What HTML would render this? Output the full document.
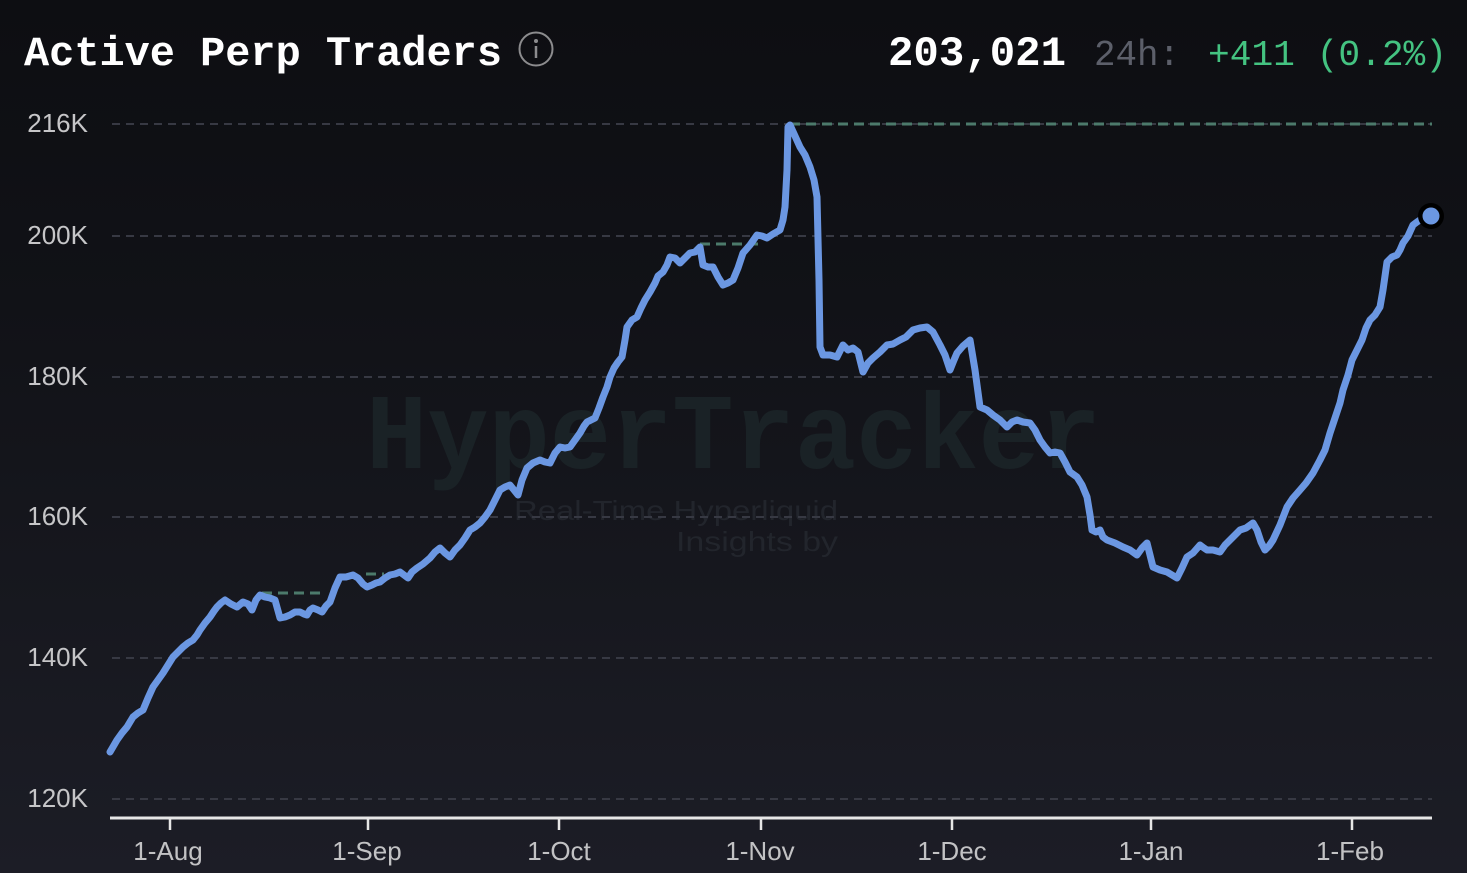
<!DOCTYPE html>
<html>
<head>
<meta charset="utf-8">
<style>
  html,body{margin:0;padding:0;}
  body{width:1467px;height:873px;overflow:hidden;background:linear-gradient(180deg,#0d0e12 0%,#111217 35%,#17181f 70%,#1c1d26 100%);}
  svg{display:block;}
</style>
</head>
<body>
<svg width="1467" height="873" viewBox="0 0 1467 873" xmlns="http://www.w3.org/2000/svg">
  <!-- Watermark -->
  <text x="366" y="468" font-family="Liberation Mono, monospace" font-weight="bold" font-size="108" fill="#1a2226" textLength="735" lengthAdjust="spacingAndGlyphs">HyperTracker</text>
  <text x="838" y="520" text-anchor="end" font-family="Liberation Sans, sans-serif" font-size="28" fill="#22252c" textLength="324" lengthAdjust="spacingAndGlyphs">Real-Time Hyperliquid</text>
  <text x="838" y="551" text-anchor="end" font-family="Liberation Sans, sans-serif" font-size="28" fill="#22252c" textLength="162" lengthAdjust="spacingAndGlyphs">Insights by</text>

  <!-- Gridlines -->
  <g stroke="#373943" stroke-width="2" stroke-dasharray="8 6">
    <line x1="112" y1="124" x2="1432" y2="124"/>
    <line x1="112" y1="236" x2="1432" y2="236"/>
    <line x1="112" y1="377" x2="1432" y2="377"/>
    <line x1="112" y1="517" x2="1432" y2="517"/>
    <line x1="112" y1="658" x2="1432" y2="658"/>
    <line x1="112" y1="799" x2="1432" y2="799"/>
  </g>
  <!-- green reference dashes -->
  <g stroke="#4c7a6b" stroke-width="3" stroke-dasharray="10 6">
    <line x1="790" y1="124" x2="1432" y2="124"/>
    <line x1="700" y1="244" x2="758" y2="244"/>
    <line x1="262" y1="593" x2="326" y2="593"/>
    <line x1="366" y1="574" x2="384" y2="574"/>
  </g>

  <!-- Y labels -->
  <g font-family="Liberation Sans, sans-serif" font-size="26" fill="#c6c6c8" text-anchor="end">
    <text x="88" y="132">216K</text>
    <text x="88" y="244">200K</text>
    <text x="88" y="385">180K</text>
    <text x="88" y="525">160K</text>
    <text x="88" y="666">140K</text>
    <text x="88" y="807">120K</text>
  </g>

  <!-- X axis -->
  <line x1="110" y1="818" x2="1432" y2="818" stroke="#e6e6e6" stroke-width="3"/>
  <g stroke="#e6e6e6" stroke-width="2.5">
    <line x1="170" y1="818" x2="170" y2="830"/>
    <line x1="368" y1="818" x2="368" y2="830"/>
    <line x1="559" y1="818" x2="559" y2="830"/>
    <line x1="761" y1="818" x2="761" y2="830"/>
    <line x1="952" y1="818" x2="952" y2="830"/>
    <line x1="1151" y1="818" x2="1151" y2="830"/>
    <line x1="1352" y1="818" x2="1352" y2="830"/>
  </g>
  <g font-family="Liberation Sans, sans-serif" font-size="26" fill="#c2c2c4" text-anchor="middle">
    <text x="168" y="860">1-Aug</text>
    <text x="367" y="860">1-Sep</text>
    <text x="559" y="860">1-Oct</text>
    <text x="760" y="860">1-Nov</text>
    <text x="952" y="860">1-Dec</text>
    <text x="1151" y="860">1-Jan</text>
    <text x="1350" y="860">1-Feb</text>
  </g>

  <!-- Data line -->
  <polyline fill="none" stroke="#6b97e2" stroke-width="7" stroke-linejoin="round" stroke-linecap="round" points="
110,752 117,740 122,733 127,727 133,717 138,713 143,710 148,698 153,687 158,680 163,673 168,665 173,657 178,652 183,647 188,643 193,640 197,635 200,630 205,623 210,617 214,611 217,607 221,603 225,600 231,604 237,607 243,602 248,604 252,610 256,600 260,595 265,597 270,598 275,600 280,618 285,617 290,615 295,612 300,612 304,614 307,615 310,610 313,608 318,610 322,612 326,606 330,602 335,588 340,577 346,577 353,575 358,578 363,584 367,587 372,585 376,583 380,582 385,578 390,575 395,574 400,572 404,575 408,578 412,572 417,568 423,564 430,558 435,552 440,548 445,553 450,557 455,550 460,545 465,538 470,530 475,527 480,523 485,517 490,510 495,500 500,490 505,487 510,485 514,490 518,495 522,480 527,468 533,463 540,460 545,462 550,463 555,453 560,447 565,448 570,447 575,440 580,433 584,426 587,422 591,420 595,418 599,408 603,397 607,387 610,377 614,368 618,362 622,357 625,340 627,327 632,320 637,317 641,308 645,300 650,292 655,283 658,276 663,272 667,265 670,257 675,258 680,263 685,258 690,253 695,252 700,247 703,265 708,267 713,267 718,277 723,285 728,283 733,280 738,268 743,253 750,245 757,235 762,236 767,238 773,234 780,230 783,220 785,207 787,170 788,127 790,125 795,136 800,147 805,155 810,167 814,180 817,197 819,280 820,347 823,355 830,355 837,357 843,345 848,350 853,348 858,352 863,372 868,363 873,358 880,352 887,345 893,344 900,340 906,337 913,330 920,328 927,327 933,332 940,345 945,355 950,370 954,360 957,353 963,346 970,340 975,370 980,407 987,410 993,415 1000,420 1007,427 1012,422 1017,420 1023,422 1030,423 1035,430 1040,440 1045,447 1050,453 1055,452 1060,453 1065,462 1070,472 1077,477 1082,485 1087,497 1090,515 1092,530 1096,532 1100,530 1103,537 1107,540 1115,543 1123,547 1130,550 1137,555 1142,548 1147,543 1150,555 1153,567 1160,570 1167,572 1172,575 1177,578 1182,568 1187,557 1193,553 1200,545 1204,548 1207,550 1213,550 1220,552 1225,545 1230,540 1235,535 1240,530 1246,528 1253,523 1257,530 1261,542 1265,550 1269,546 1273,540 1280,525 1287,507 1293,498 1300,490 1306,483 1313,473 1320,460 1325,450 1330,433 1335,418 1340,403 1343,390 1348,375 1352,360 1357,350 1362,340 1366,328 1370,320 1375,315 1380,307 1383,290 1387,262 1392,257 1397,255 1400,250 1403,243 1408,236 1413,225 1417,222 1420,220 1431,216"/>

  <!-- End dot -->
  <circle cx="1431" cy="216" r="13" fill="#000"/>
  <circle cx="1431" cy="216" r="8.5" fill="#6b97e2"/>

  <!-- Title -->
  <text x="24" y="65" font-family="Liberation Mono, monospace" font-weight="bold" font-size="42" fill="#ffffff" textLength="478" lengthAdjust="spacingAndGlyphs">Active Perp Traders</text>
  <circle cx="536" cy="49" r="16.5" fill="none" stroke="#8c8c8e" stroke-width="2"/>
  <circle cx="536" cy="41" r="2" fill="#8c8c8e"/>
  <line x1="536" y1="46" x2="536" y2="58" stroke="#8c8c8e" stroke-width="2.5"/>

  <!-- Header values -->
  <text x="888" y="65" font-family="Liberation Mono, monospace" font-weight="bold" font-size="42" fill="#ffffff" textLength="178" lengthAdjust="spacingAndGlyphs">203,021</text>
  <text x="1094" y="65" font-family="Liberation Mono, monospace" font-size="36" fill="#5c5f6a" textLength="86" lengthAdjust="spacingAndGlyphs">24h:</text>
  <text x="1208" y="65" font-family="Liberation Mono, monospace" font-size="36" fill="#44c381" textLength="239" lengthAdjust="spacingAndGlyphs">+411 (0.2%)</text>
</svg>
</body>
</html>
